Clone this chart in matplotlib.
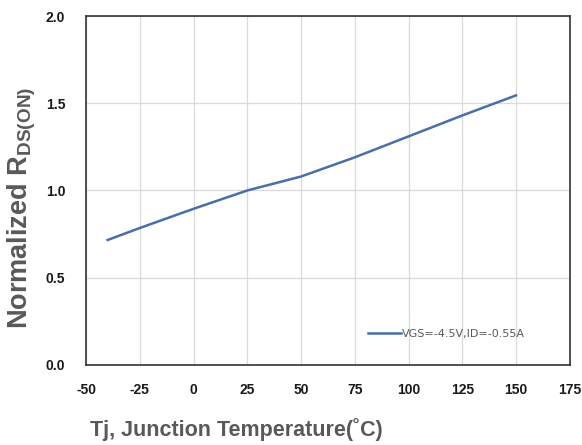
import matplotlib
matplotlib.use("Agg")
from matplotlib import pyplot as plt

# Normalized Rds(on) vs junction temperature
temp = [-40, -25, 0, 25, 50, 75, 100, 125, 150]
rds_norm = [0.716, 0.785, 0.895, 1.0, 1.08, 1.19, 1.31, 1.43, 1.545]
series_label = "VGS=-4.5V,ID=-0.55A"
x_ticks = [-50, -25, 0, 25, 50, 75, 100, 125, 150, 175]
y_ticks = [0.0, 0.5, 1.0, 1.5, 2.0]

plt.rcParams["axes.unicode_minus"] = False
plt.rcParams["mathtext.fontset"] = "custom"
plt.rcParams["mathtext.rm"] = "Liberation Sans:bold"

fig = plt.figure(figsize=(5.82, 4.45), dpi=100)
ax = fig.add_axes([0.148, 0.180, 0.831, 0.784])

ax.plot(temp, rds_norm, color="#4a6ea9", linewidth=1.8, label=series_label)

ax.set_xlim(-50, 175)
ax.set_ylim(0, 2.0)
ax.set_xticks(x_ticks)
ax.set_yticks(y_ticks)
ax.set_yticklabels([f"{v:.1f}" for v in y_ticks])
ax.grid(True, color="#d9d9d9", linewidth=0.9)
ax.set_axisbelow(True)
ax.tick_params(axis="x", length=0, pad=13, labelsize=10)
ax.tick_params(axis="y", length=0, pad=15, labelsize=10)
for lab in ax.get_xticklabels() + ax.get_yticklabels():
    lab.set_fontweight("bold")
    lab.set_fontfamily("Liberation Sans")
    lab.set_color("#1a1a1a")
for sp in ax.spines.values():
    sp.set_color("#333333")
    sp.set_linewidth(1.2)

fig.text(90 / 582, 1 - 430 / 445, "Tj, Junction Temperature(˚C)", fontsize=15.5,
         fontweight="bold", color="#595959", family=["Liberation Sans", "DejaVu Sans"],
         ha="left", va="center")
fig.text(22 / 582, 1 - 208 / 445, r"Normalized R$_{\mathregular{DS(ON)}}$",
         fontsize=19.5, fontweight="bold", color="#595959", family="Liberation Sans",
         rotation=90, ha="center", va="center")

leg = ax.legend(loc="center left", bbox_to_anchor=(362 / 582, 1 - 334 / 445),
                bbox_transform=fig.transFigure, frameon=False, borderpad=0,
                fontsize=8, handlelength=3.0, handletextpad=0.1)
for t in leg.get_texts():
    t.set_color("#595959")

fig.savefig("out.png", dpi=100)
